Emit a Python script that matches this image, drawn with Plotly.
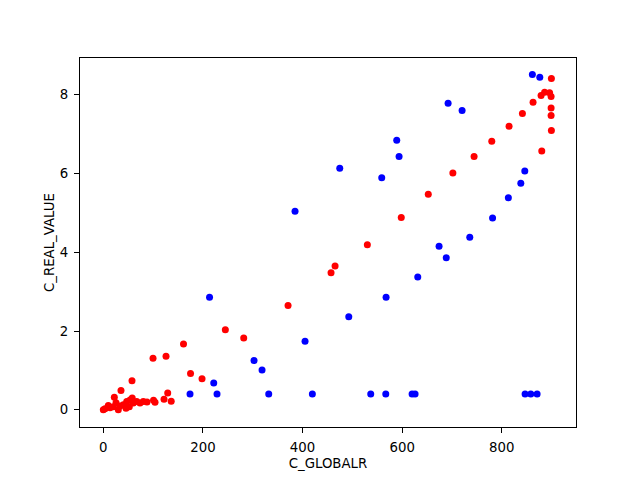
import plotly.graph_objects as go

blue_x = [861.4, 876.3, 692.2, 720.3, 589.1, 593.8, 474.7, 559.0, 846.2, 838.2,
          813.2, 781.5, 735.7, 674.1, 688.5, 631.3, 567.7, 492.8, 405.0, 384.9,
          213.3, 302.6, 318.7, 221.7,
          174.1, 228.3, 332.1, 419.7, 536.9, 567.1, 619.9, 625.9, 846.8, 858.2, 870.9]
blue_y = [8.51, 8.44, 7.78, 7.60, 6.84, 6.43, 6.13, 5.89, 6.06, 5.75,
          5.38, 4.87, 4.38, 4.15, 3.86, 3.37, 2.86, 2.36, 1.74, 5.04,
          2.86, 1.25, 1.01, 0.68,
          0.40, 0.40, 0.40, 0.40, 0.40, 0.40, 0.40, 0.40, 0.40, 0.40, 0.40]

red_x = [899.6, 886.0, 896.0, 878.9, 899.0, 862.8, 899.0, 899.0, 841.4, 814.6,
         899.6, 779.9, 880.3, 744.4, 701.8, 652.4, 598.2, 530.1, 465.3, 457.2,
         370.9, 245.0, 281.9, 161.0, 99.8, 125.9, 175.1, 198.2, 57.6, 35.5,
         129.3, 121.9, 136.3, 100.8, 103.8,
         22.1, 0.0, 3.4, 10.0, 20.1, 30.1, 40.2, 47.0, 53.6, 60.2,
         67.1, 73.7, 80.3, 45.6, 52.2, 13.5, 25.5, 33.5, 87.7, 58.0]
red_y = [8.41, 8.06, 8.05, 7.98, 7.95, 7.81, 7.66, 7.47, 7.52, 7.20,
         7.09, 6.82, 6.57, 6.43, 6.01, 5.47, 4.88, 4.19, 3.65, 3.48,
         2.65, 2.03, 1.82, 1.67, 1.31, 1.36, 0.92, 0.79, 0.74, 0.49,
         0.43, 0.27, 0.22, 0.24, 0.19,
         0.32, 0.00, 0.03, 0.11, 0.08, 0.00, 0.13, 0.21, 0.25, 0.17,
         0.21, 0.17, 0.21, 0.04, 0.08, 0.05, 0.18, 0.10, 0.20, 0.30]

x_ticks = [0, 200, 400, 600, 800]
y_ticks = [0, 2, 4, 6, 8]

fig = go.Figure()
fig.add_trace(go.Scatter(x=blue_x, y=blue_y, mode="markers",
                         marker=dict(color="#0000ff", size=7, line=dict(width=0))))
fig.add_trace(go.Scatter(x=red_x, y=red_y, mode="markers",
                         marker=dict(color="#ff0000", size=7, line=dict(width=0))))

font = dict(family="DejaVu Sans", size=13.3, color="#000000")
fig.update_layout(
    width=640, height=480,
    margin=dict(l=72, r=72, t=50, b=61),
    paper_bgcolor="white", plot_bgcolor="white",
    showlegend=False,
    font=font,
)
fig.update_xaxes(
    range=[-46.8, 949], tickvals=x_ticks, ticktext=[str(v) for v in x_ticks],
    showgrid=False, zeroline=False, showline=True, linecolor="black", linewidth=1,
    mirror=True, ticks="outside", ticklen=5, tickwidth=1, tickcolor="black",
    ticklabelstandoff=3,
    title=dict(text="C_GLOBALR", font=font, standoff=4), automargin=False,
)
fig.update_yaxes(
    range=[-0.436, 8.93], tickvals=y_ticks, ticktext=[str(v) for v in y_ticks],
    showgrid=False, zeroline=False, showline=True, linecolor="black", linewidth=1,
    mirror=True, ticks="outside", ticklen=5, tickwidth=1, tickcolor="black",
    ticklabelstandoff=3,
    title=dict(text="C_REAL_VALUE", font=font, standoff=2), automargin=False,
)
fig.write_html("out.html")
